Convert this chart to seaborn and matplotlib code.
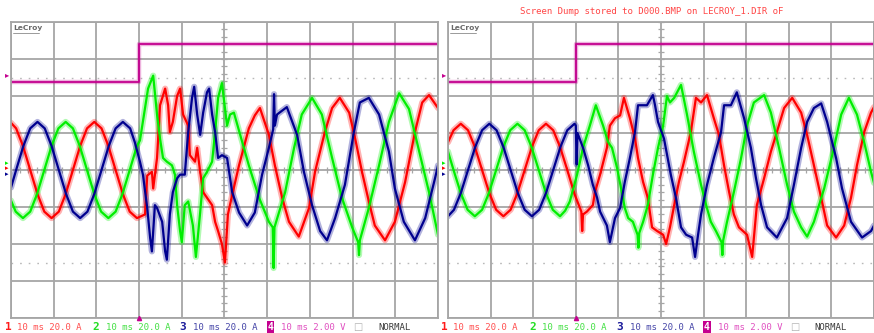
import numpy as np
import pandas as pd
import matplotlib
matplotlib.use("Agg")
import matplotlib.pyplot as plt
from matplotlib.lines import Line2D
from matplotlib.transforms import blended_transform_factory
import seaborn as sns

# scope settings
AMPS_PER_DIV = 20.0
VOLTS_PER_DIV = 2.0
CH4_GROUND_DIV = 2.59

# ---- left capture (time in ms, current in A) ----
left_t1 = [0, 1.2, 2.8, 4.5, 6.2, 7.8, 9.5, 11.2, 12.8, 14.5, 16.2, 17.8, 19.5, 21.2, 22.8, 24.5,
           26.2, 27.8, 29.5, 31.4, 31.9, 33.0, 33.3, 34.2, 34.9, 36.1, 36.8, 37.2, 37.9, 38.9, 39.6,
           40.3, 41.5, 41.9, 43.1, 43.6, 44.3, 45.0, 45.9, 47.1, 47.8, 48.5, 49.4, 50.1, 50.8, 51.8,
           53.4, 55.7, 57.1, 58.3, 60.4, 61.8, 63.5, 65.1, 67.4, 69.8, 71.2, 73.5, 75.2, 77.0, 79.2,
           80.6, 82.2, 83.8, 85.2, 87.6, 89.9, 92.3, 94.6, 96.3, 97.9, 100.0]
left_i1 = [25.5, 22.5, 13, 0, -13, -22.5, -26, -22.5, -13, 0, 13, 22.5, 26, 22.5, 13, 0,
           -13, -22.5, -26, -24, -3, -1, -10, 6.5, 35, 44, 35, 20.5, 26, 40, 44,
           30, 24, 8, 4.5, 12, -1, -12, -15, -19, -28, -33, -40, -50, -24, -13.5,
           2.5, 22.5, 29.5, 33.5, 19, 2.5, -15, -28, -36, -20.5, -1, 20.5, 33.5, 39, 31,
           17, -1, -17, -30, -38, -28, -6.5, 20.5, 36.5, 40.5, 33.5]

left_t2 = [0, 1.1, 2.8, 4.5, 6.1, 7.8, 9.5, 11.1, 12.8, 14.5, 16.1, 17.8, 19.5, 21.1, 22.8, 24.5,
           26.1, 27.8, 29.5, 30.2, 32.1, 33.3, 34.2, 34.9, 35.6, 36.5, 37.7, 38.4, 38.9, 39.6,
           40.0, 40.7, 41.5, 42.6, 43.3, 44.3, 45.0, 45.9, 47.1, 47.8, 48.5, 49.4, 50.6, 51.3,
           52.2, 55.7, 58.1, 60.4, 61.3, 61.5, 61.7, 64.2, 66.3, 68.1, 70.5, 72.8, 75.2, 77.5,
           79.9, 81.3, 81.5, 81.7, 83.8, 86.2, 88.5, 90.9, 93.2, 95.6, 97.9, 100.0]
left_i2 = [-16.5, -22.5, -26, -22.5, -13, 0, 13, 22.5, 26, 22.5, 13, 0, -13, -22.5, -26, -22.5,
           -13, 0, 13, 16, 44, 51, 30, 17, 6.5, 4.5, 2.5, -2.5, -19, -33,
           -39, -19, -17, -30, -47, -23, -4.5, -1, 4.5, 20.5, 39, 47, 24, 30,
           31, 2.5, -15, -28, -31, -53, -31, -12, 12, 30, 39, 30, 6.5, -15,
           -31, -39, -46, -38, -20.5, 2.5, 26, 41.5, 33, 10, -12, -35]

left_t3 = [0, 1.2, 2.9, 4.5, 6.2, 7.9, 9.5, 11.2, 12.9, 14.5, 16.2, 17.9, 19.5, 21.2, 22.9, 24.5,
           26.2, 27.9, 29.0, 30.2, 30.9, 31.9, 32.6, 33.0, 33.7, 34.2, 35.4, 36.1, 36.5, 37.2,
           37.9, 38.9, 39.6, 40.7, 41.5, 42.4, 42.9, 43.6, 44.3, 45.0, 45.9, 46.4, 47.1, 47.8,
           48.5, 49.4, 50.6, 51.8, 53.4, 55.3, 57.1, 57.6, 58.8, 60.4, 61.4, 61.6, 61.8, 62.3,
           64.6, 67.0, 68.6, 70.5, 72.4, 74.0, 75.9, 78.2, 80.3, 81.7, 83.8, 86.2, 88.5, 89.9,
           92.0, 94.6, 97.0, 99.3, 100.0]
left_i3 = [-9.5, 0, 13, 22.5, 26, 22.5, 13, 0, -13, -22.5, -26, -22.5, -13, 0, 13, 22.5,
           26, 22.5, 15, 4.5, -2.5, -20.5, -37, -44, -19, -20.5, -28, -44, -48.5, -24,
           -12, -4.5, -2.5, -2.5, 20.5, 39, 45, 30, 19, 31, 42, 44, 30, 20.5,
           6.5, 8, 6.5, -12, -23, -30, -23, -17, -2.5, 12, 22, 41, 24, 30,
           34, 19, -1, -19, -33, -38, -26, -8, 20.5, 36.5, 39, 30, 10, -10,
           -28, -38, -26, -4.5, 2.5]

# ---- right capture ----
right_t1 = [0, 1.3, 3.0, 4.7, 6.3, 8.0, 9.7, 11.3, 13.0, 14.7, 16.3, 18.0, 19.7, 21.3, 23.0, 24.7,
            26.3, 28.0, 29.7, 31.3, 31.5, 31.7, 32.6, 34.0, 34.5, 35.7, 37.3, 38.0, 39.2, 40.4,
            41.3, 42.7, 43.9, 44.6, 45.8, 46.9, 47.9, 49.1, 50.5, 51.2, 52.1, 53.1, 54.2, 55.4,
            57.0, 58.2, 59.4, 60.8, 62.4, 63.6, 64.8, 66.0, 67.1, 68.3, 70.2, 71.4, 72.5, 74.2,
            75.8, 77.2, 78.9, 80.8, 82.9, 84.3, 85.9, 87.6, 89.0, 91.1, 93.0, 94.6, 96.0, 97.7,
            99.3, 100.0]
right_i1 = [15, 21.5, 25, 21.5, 12.5, 0, -12.5, -21.5, -25, -21.5, -12.5, 0, 12.5, 21.5, 25, 21.5,
            12.5, 0, -13, -22.5, -33, -24, -22.5, -19, -12, -2.5, 12, 24, 28, 29.5,
            39, 28, 17, 6.5, -6.5, -15, -31, -33, -35, -40, -31, -19, -6.5, 4.5,
            20.5, 39, 36.5, 40.5, 28, 19, 2.5, -12, -24, -31, -35, -47, -19, -4.5,
            10, 20.5, 33.5, 39, 31, 19, 2.5, -15, -30, -36.5, -30, -15, 2.5, 20.5,
            31, 34]

right_t2 = [0, 1.3, 3.0, 4.6, 6.3, 8.0, 9.6, 11.3, 13.0, 14.6, 16.3, 18.0, 19.6, 21.3, 23.0, 24.6,
            26.3, 27.5, 28.6, 30.3, 31.7, 33.3, 34.7, 36.4, 37.6, 38.5, 39.7, 40.8, 41.5, 42.3,
            43.4, 44.5, 44.7, 44.9, 45.8, 46.9, 48.1, 49.3, 50.5, 51.4, 52.1, 53.1, 54.7, 56.1,
            57.7, 59.4, 60.6, 61.7, 62.9, 64.2, 64.4, 64.6, 65.5, 67.1, 68.8, 70.2, 71.8, 74.2,
            75.8, 77.7, 79.6, 81.2, 82.9, 84.3, 85.9, 88.3, 90.6, 92.3, 94.1, 96.0, 97.7, 99.3,
            100.0]
right_i2 = [10, 0, -12.5, -21.5, -25, -21.5, -12.5, 0, 12.5, 21.5, 25, 21.5, 12.5, 0, -12.5, -21.5,
            -25, -22, -17, -2.5, 12, 24, 35, 24, 15, 12, 1, -12, -20.5, -26,
            -28, -35, -42, -34, -28, -19, -2.5, 12, 24, 40, 36.5, 39, 46, 30,
            10, -8, -19, -28, -33, -39, -46, -38, -28, -12, 6.5, 24, 36.5, 40.5,
            31, 12, -8, -22.5, -31, -36, -28, -10, 12, 30, 39, 30, 15, -1,
            -7]

right_t3 = [0, 1.4, 3.0, 4.7, 6.4, 8.0, 9.7, 11.4, 13.0, 14.7, 16.4, 18.0, 19.7, 21.4, 23.0, 24.7,
            26.4, 28.0, 29.7, 30.0, 30.2, 30.4, 31.7, 32.9, 34.0, 35.0, 35.7, 37.3, 38.0, 39.2,
            40.4, 41.5, 42.7, 43.9, 44.6, 46.7, 48.1, 48.6, 49.3, 50.7, 52.3, 53.5, 54.7, 55.9,
            57.3, 58.0, 58.7, 59.4, 60.8, 62.4, 64.1, 64.8, 66.4, 67.8, 69.5, 71.1, 72.3, 73.5,
            74.9, 77.2, 79.6, 81.2, 82.9, 84.3, 85.9, 87.6, 89.0, 91.1, 92.5, 94.6, 97.2, 99.3,
            100.0]
right_i3 = [-25, -21.5, -12.5, 0, 12.5, 21.5, 25, 21.5, 12.5, 0, -12.5, -21.5, -25, -21.5, -12.5, 0,
            12.5, 21.5, 25, 24, 3, 20, 12, 2.5, -8, -15, -22.5, -30, -39, -26,
            -20.5, -6.5, 6.5, 20.5, 35, 35, 40.5, 35, 26, 17, -2.5, -15, -31, -35,
            -36.5, -47, -35, -24, -8, 6.5, 20.5, 35, 35, 42, 28, 12, -4.5, -19,
            -31, -36.5, -26, -8, 12, 26, 33.5, 36, 26, 6.5, -10, -28, -36.5, -33,
            -30]

# channel 4 step (same on both captures), volts
ch4_t = [0, 30, 30, 100]
ch4_v = [-0.4, -0.4, 1.65, 1.65]

channel_labels = ["1", "2", "3"]
TRACE_COLORS = {"1": "#ff0000", "2": "#00ee00", "3": "#00008f"}
MAGENTA = "#c4008f"
GRID = "#a6a6a6"

panels = [
    [(left_t1, left_i1), (left_t2, left_i2), (left_t3, left_i3)],
    [(right_t1, right_i1), (right_t2, right_i2), (right_t3, right_i3)],
]

sns.set_style("white")
plt.rcParams["font.family"] = ["DejaVu Sans Mono"]

W, H = 874, 333
fig = plt.figure(figsize=(W / 100, H / 100), dpi=100)
axes = [fig.add_axes([11 / W, 15 / H, 427 / W, 296 / H]),
        fig.add_axes([448 / W, 15 / H, 426 / W, 296 / H])]

for ax, chans in zip(axes, panels):
    df = pd.concat(
        [pd.DataFrame({"t": t, "div": np.asarray(i, dtype=float) / AMPS_PER_DIV, "ch": name})
         for name, (t, i) in zip(channel_labels, chans)],
        ignore_index=True)
    # soft halo (trace noise) then the trace itself
    sns.lineplot(data=df, x="t", y="div", hue="ch", hue_order=channel_labels, palette=TRACE_COLORS,
                 estimator=None, sort=False, linewidth=4.4, alpha=0.3, legend=False, ax=ax)
    sns.lineplot(data=df, x="t", y="div", hue="ch", hue_order=channel_labels, palette=TRACE_COLORS,
                 estimator=None, sort=False, linewidth=1.6, legend=False, ax=ax)

    df4 = pd.DataFrame({"t": ch4_t, "div": CH4_GROUND_DIV + np.asarray(ch4_v) / VOLTS_PER_DIV})
    sns.lineplot(data=df4, x="t", y="div", estimator=None, sort=False, color=MAGENTA,
                 linewidth=3.2, alpha=0.3, ax=ax)
    sns.lineplot(data=df4, x="t", y="div", estimator=None, sort=False, color=MAGENTA,
                 linewidth=1.3, ax=ax)

    # graticule
    ax.set_xlim(0, 100)
    ax.set_ylim(-4, 4)
    ax.set_xticks(np.arange(0, 101, 10))
    ax.set_yticks(np.arange(-4, 5, 1))
    ax.grid(True, color=GRID, linewidth=1.3)
    ax.set_axisbelow(True)
    ax.tick_params(length=0, labelbottom=False, labelleft=False)
    ax.set_xlabel("")
    ax.set_ylabel("")
    for sp in ax.spines.values():
        sp.set_color(GRID)
        sp.set_linewidth(1.3)
    for lvl in (2.5, -2.5):
        ax.axhline(lvl, color="#b8b8b8", linewidth=1.0, linestyle=(0, (1.2, 5.0)), zorder=0.5)
    small_t = np.arange(0, 100.01, 2)
    ax.plot(small_t, np.zeros_like(small_t), ls="none", marker="|", ms=5, mew=0.9, color=GRID, zorder=0.6)
    small_v = np.arange(-4, 4.01, 0.2)
    ax.plot(np.full_like(small_v, 50), small_v, ls="none", marker="_", ms=5, mew=0.9, color=GRID, zorder=0.6)

    # ground markers and trigger marker
    tr = blended_transform_factory(ax.transAxes, ax.transData)
    ax.text(-0.009, CH4_GROUND_DIV, "\u25b8", transform=tr, color=MAGENTA, fontsize=6,
            ha="center", va="center", family="DejaVu Sans", clip_on=False)
    for name, off in zip(channel_labels, (0.05, 0.2, -0.1)):
        ax.text(-0.009, off, "\u25b8", transform=tr, color=TRACE_COLORS[name], fontsize=5,
                ha="center", va="center", family="DejaVu Sans", clip_on=False)
    ax.plot([30], [-4], ls="none", marker="^", ms=3, color=MAGENTA, clip_on=False, zorder=5)

# LeCroy badges and underline
for x0 in (13, 450):
    fig.text(x0 / W, 1 - 28 / H, "LeCroy", color="#6a6a6a", fontsize=5.4, family="DejaVu Sans",
             fontweight="bold", ha="left", va="center")
    fig.add_artist(Line2D([x0 / W, (x0 + 26) / W], [1 - 33 / H, 1 - 33 / H], color="#8a8a8a", lw=0.6))

# top status text
fig.text(652 / W, 1 - 12 / H, "Screen Dump stored to D000.BMP on LECROY_1.DIR oF",
         color="#ff4646", fontsize=6.5, ha="center", va="center")

# bottom channel readouts
label_y = 1 - 327 / H
num_x = [8, 96, 183]
txt_x = [17, 106, 193]
num_colors = ["#ff1a1a", "#22dd22", "#1a1a9a"]
txt_colors = ["#ff5050", "#44e044", "#4646a8"]
for shift in (0, 436.5):
    for nx, tx, nc, tc, lab in zip(num_x, txt_x, num_colors, txt_colors, channel_labels):
        fig.text((nx + shift) / W, label_y, lab, color=nc, fontsize=8, fontweight="bold",
                 ha="center", va="center")
        fig.text((tx + shift) / W, label_y, "10 ms 20.0 A", color=tc, fontsize=6.5,
                 ha="left", va="center")
    fig.text((270.5 + shift) / W, label_y, "4", color="white", fontsize=7, fontweight="bold",
             ha="center", va="center",
             bbox=dict(boxstyle="square,pad=0.08", facecolor=MAGENTA, edgecolor="none"))
    fig.text((281 + shift) / W, label_y, "10 ms 2.00 V", color="#e050c0", fontsize=6.5,
             ha="left", va="center")
    fig.text((358 + shift) / W, label_y, "\u25a1", color="#b0b0b0", fontsize=7,
             family="DejaVu Sans", ha="center", va="center")
    fig.text((378 + shift) / W, label_y, "NORMAL", color="#3a3a3a", fontsize=6.5,
             ha="left", va="center")

fig.savefig("out.png", dpi=100, facecolor="white")
